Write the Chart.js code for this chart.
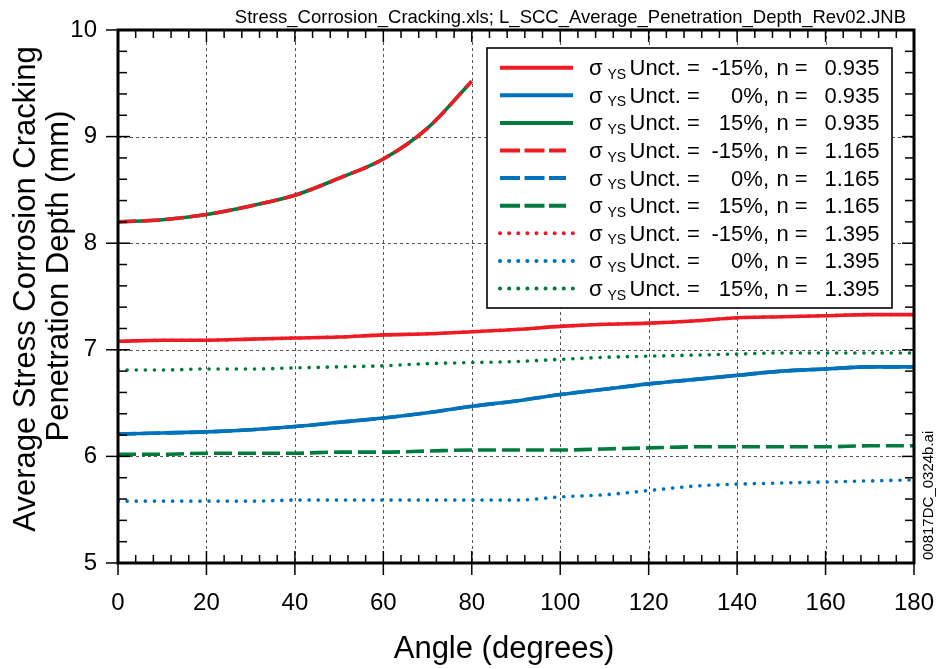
<!DOCTYPE html>
<html><head><meta charset="utf-8">
<script src="https://cdn.jsdelivr.net/npm/chart.js@4/dist/chart.umd.min.js"></script>
<style>html,body{margin:0;padding:0;background:#fff;}#wrap{width:943px;height:669px;position:relative;}</style>
</head><body><div id="wrap"><canvas id="c" width="943" height="669"></canvas></div>
<script>
// ---- data ----
const angles = [0,10,20,30,40,50,60,70,80,90,100,110,120,130,140,150,160,170,180];
const anglesUpper = [0,10,20,30,40,50,60,70,80];
const redSolid    = [7.08,7.09,7.09,7.10,7.11,7.12,7.14,7.15,7.17,7.19,7.22,7.24,7.25,7.27,7.30,7.31,7.32,7.33,7.33];
const blueSolid   = [6.21,6.22,6.23,6.25,6.28,6.32,6.36,6.41,6.47,6.52,6.58,6.63,6.68,6.72,6.76,6.80,6.82,6.84,6.84];
const greenSolid  = [8.20,8.22,8.27,8.35,8.45,8.61,8.79,9.08,9.52];
const redDashed   = [8.20,8.22,8.27,8.35,8.45,8.61,8.79,9.08,9.52];
const blueDashed  = [6.21,6.22,6.23,6.25,6.28,6.32,6.36,6.41,6.47,6.52,6.58,6.63,6.68,6.72,6.76,6.80,6.82,6.84,6.84];
const greenDashed = [6.02,6.02,6.03,6.03,6.03,6.04,6.04,6.05,6.06,6.06,6.06,6.07,6.08,6.09,6.09,6.09,6.09,6.10,6.10];
const redDotted   = [7.08,7.09,7.09,7.10,7.11,7.12,7.14,7.15,7.17,7.19,7.22,7.24,7.25,7.27,7.30,7.31,7.32,7.33,7.33];
const blueDotted  = [5.58,5.58,5.58,5.58,5.59,5.59,5.59,5.59,5.59,5.59,5.62,5.64,5.68,5.72,5.74,5.75,5.76,5.77,5.78];
const greenDotted = [6.81,6.81,6.82,6.82,6.83,6.84,6.85,6.87,6.88,6.89,6.91,6.93,6.94,6.95,6.96,6.97,6.97,6.97,6.97];
const xTicks = [0,20,40,60,80,100,120,140,160,180];
const yTicks = [5,6,7,8,9,10];
const legendPct = ['-15%,','0%,','15%,','-15%,','0%,','15%,','-15%,','0%,','15%,'];
const legendN = ['0.935','0.935','0.935','1.165','1.165','1.165','1.395','1.395','1.395'];
const xTitle = 'Angle (degrees)';
const yTitle = ['Average Stress Corrosion Cracking','Penetration Depth (mm)'];
const topNote = 'Stress_Corrosion_Cracking.xls; L_SCC_Average_Penetration_Depth_Rev02.JNB';
const sideNote = '00817DC_0324b.ai';

const RED='#ed1c24', BLUE='#0072bc', GREEN='#007a3d';
const FONT='"Liberation Sans", Arial, sans-serif';
const SOLID=[], DASH=[18,6], DOT=[0.1,9];

function pts(xs, ys){ return xs.map((v,i)=>({x:v,y:ys[i]})); }
function ds(data, xs, color, dash, order){
  const dotted = dash===DOT;
  return {data:pts(xs,data), borderColor:color, backgroundColor:color, borderWidth:3.6,
    borderDash:dash, borderCapStyle:dotted?'round':'butt', pointRadius:0, pointHoverRadius:0,
    fill:false, cubicInterpolationMode:'monotone', order:order};
}
const datasets = [
  ds(redSolid, angles, RED, SOLID, 0),
  ds(blueSolid, angles, BLUE, SOLID, 0),
  ds(greenSolid, anglesUpper, GREEN, SOLID, 1),
  ds(redDashed, anglesUpper, RED, DASH, 0),
  ds(blueDashed, angles, BLUE, DASH, 1),
  ds(greenDashed, angles, GREEN, DASH, 0),
  ds(redDotted, angles, RED, DOT, 1),
  ds(blueDotted, angles, BLUE, DOT, 0),
  ds(greenDotted, angles, GREEN, DOT, 0)
];

function seg(ctx,x1,y1,x2,y2){ctx.beginPath();ctx.moveTo(x1,y1);ctx.lineTo(x2,y2);ctx.stroke();}

const deco = {
  id:'deco',
  beforeDatasetsDraw(chart){
    const {ctx, chartArea:a, scales:{x,y}} = chart;
    ctx.save();
    ctx.strokeStyle='#555'; ctx.lineWidth=1; ctx.setLineDash([3,3]);
    xTicks.forEach(v=>{ if(v>0&&v<180){const px=Math.round(x.getPixelForValue(v))+0.5; seg(ctx,px,a.top,px,a.bottom);} });
    yTicks.forEach(v=>{ if(v>5&&v<10){const py=Math.round(y.getPixelForValue(v))+0.5; seg(ctx,a.left,py,a.right,py);} });
    ctx.restore();
  },
  afterDatasetsDraw(chart){
    const {ctx, chartArea:a, scales:{x,y}} = chart;
    ctx.save();
    ctx.setLineDash([]);
    ctx.strokeStyle='#000'; ctx.lineWidth=1.5;
    // minor ticks
    for(let v=0; v<=180; v+=4){ if(v%20===0) continue; const px=x.getPixelForValue(v);
      seg(ctx,px,a.bottom,px,a.bottom-8); seg(ctx,px,a.top,px,a.top+8); }
    for(let k=25; k<=50; k++){ const v=k/5; if(k%5===0) continue; const py=y.getPixelForValue(v);
      seg(ctx,a.left,py,a.left+9,py); seg(ctx,a.right,py,a.right-9,py); }
    // major ticks
    xTicks.forEach(v=>{const px=x.getPixelForValue(v); seg(ctx,px,a.bottom+12,px,a.bottom-12); seg(ctx,px,a.top,px,a.top+12);});
    yTicks.forEach(v=>{const py=y.getPixelForValue(v); seg(ctx,a.left-12,py,a.left+12,py); seg(ctx,a.right,py,a.right-12,py);});
    // frame
    ctx.lineWidth=3;
    ctx.strokeRect(a.left,a.top,a.right-a.left,a.bottom-a.top);

    // legend box
    const L=487, T=48, R=892, B=308;
    ctx.fillStyle='#fff'; ctx.fillRect(L,T,R-L,B-T);
    ctx.lineWidth=1.6; ctx.strokeStyle='#000'; ctx.strokeRect(L,T,R-L,B-T);
    datasets.forEach((d,i)=>{
      const cy = 67.7 + i*27.6;
      ctx.save();
      ctx.strokeStyle=d.borderColor; ctx.lineWidth=4;
      ctx.setLineDash(d.borderDash===DASH?[20,4.5]:d.borderDash); ctx.lineCap=d.borderCapStyle;
      seg(ctx,500,cy,d.borderDash===DASH?566:573,cy);
      ctx.restore();
      const base = cy+7.5;
      ctx.fillStyle='#000'; ctx.textBaseline='alphabetic';
      ctx.font='22px '+FONT; ctx.textAlign='left';
      ctx.fillText('\u03C3',589,base);
      ctx.font='14px '+FONT; ctx.fillText('YS',607.5,base+3.5);
      ctx.font='22px '+FONT;
      ctx.fillText('Unct. =',629.5,base);
      ctx.textAlign='right'; ctx.fillText(legendPct[i],769,base);
      ctx.textAlign='left'; ctx.fillText('n =',776.5,base);
      ctx.textAlign='right'; ctx.fillText(legendN[i],879.5,base);
    });

    // titles
    ctx.fillStyle='#000';
    ctx.font='31px '+FONT; ctx.textAlign='center'; ctx.textBaseline='alphabetic';
    ctx.fillText(xTitle,504,658);
    ctx.save(); ctx.translate(0,289); ctx.rotate(-Math.PI/2);
    ctx.fillText(yTitle[0],0,35); ctx.restore();
    ctx.save(); ctx.translate(0,276); ctx.rotate(-Math.PI/2);
    ctx.fillText(yTitle[1],0,68); ctx.restore();
    // top note
    ctx.font='18.5px '+FONT; ctx.textAlign='right';
    ctx.fillText(topNote,906,22.5);
    // side note
    ctx.save(); ctx.translate(933,560); ctx.rotate(-Math.PI/2);
    ctx.font='15px '+FONT; ctx.textAlign='left'; ctx.fillText(sideNote,0,0); ctx.restore();
    ctx.restore();
  }
};

new Chart(document.getElementById('c'), {
  type:'line',
  data:{datasets},
  options:{
    responsive:false, animation:false, devicePixelRatio:1,
    layout:{padding:{top:30,right:29,left:0,bottom:0}},
    plugins:{legend:{display:false}, tooltip:{enabled:false}, title:{display:false}},
    scales:{
      x:{type:'linear', min:0, max:180,
        afterBuildTicks(s){ s.ticks = xTicks.map(v=>({value:v})); },
        afterFit(s){ s.height = 106; s.paddingLeft = 0; s.paddingRight = 0; },
        grid:{display:false, drawTicks:false}, border:{display:false},
        ticks:{font:{family:FONT,size:24}, color:'#000', padding:26, maxRotation:0, autoSkip:false}},
      y:{type:'linear', min:5, max:10,
        afterBuildTicks(s){ s.ticks = yTicks.map(v=>({value:v})); },
        afterFit(s){ s.width = 118; s.paddingTop = 0; s.paddingBottom = 0; },
        grid:{display:false, drawTicks:false}, border:{display:false},
        ticks:{font:{family:FONT,size:24}, color:'#000', padding:21, autoSkip:false}}
    }
  },
  plugins:[deco]
});
</script></body></html>
